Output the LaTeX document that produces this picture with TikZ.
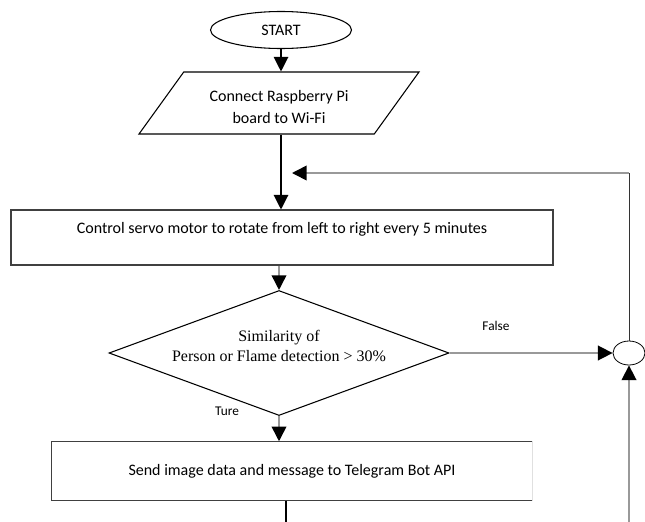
\documentclass[tikz,border=0pt]{standalone}
\usepackage{fontspec}
\setmainfont{Carlito}
\newfontfamily\decisionfont{Liberation Serif}
\usepackage{tikz}
\usetikzlibrary{arrows.meta,positioning,shapes.geometric}

\begin{document}
\begin{tikzpicture}[x=0.75pt, y=-0.75pt,
    font=\fontsize{12}{16.5}\selectfont,
    arr/.style={-{Triangle[length=11pt, width=11pt, color=black]}},
    mainline/.style={draw=black, line width=0.9pt},
    flowline/.style={draw=black!40, line width=1.2pt},
    procbox/.style={rectangle, draw=black!75, line width=0.8pt, inner sep=0pt},
    lbl/.style={font=\fontsize{10}{12}\selectfont}]
    \useasboundingbox (0,0) rectangle (645,521);

    % Start
    \node[ellipse, draw, line width=0.8pt, minimum width=105.75pt, minimum height=27.75pt, inner sep=0pt] (start) at (281,30) {START};

    % Wi-Fi connection (input/output)
    \node[trapezium, trapezium left angle=43, trapezium right angle=137, trapezium stretches body,
          draw, line width=0.8pt, minimum width=210pt, minimum height=46.5pt, inner sep=0pt, align=center] (wifi) at (279,103)
          {\rule{0pt}{14.7pt}Connect Raspberry Pi\\board to Wi-Fi};

    % Servo sweep
    \node[procbox, minimum width=406.5pt, minimum height=41.25pt, text height=8.7pt, text depth=14.5pt] (servo) at (282,237.5)
          {Control servo motor to rotate from left to right every 5 minutes};

    % Decision
    \node[diamond, draw, line width=0.8pt, shape aspect=2.72, minimum width=255pt, minimum height=93.75pt, inner sep=0pt] (detect) at (279,353) {};
    \node[align=center, font=\decisionfont\fontsize{12}{15.5}\selectfont] (detecttext) at (279,346)
          {Similarity of\\Person or Flame detection \textgreater{} 30\%};

    % Junction
    \node[ellipse, draw, line width=0.6pt, minimum width=24pt, minimum height=18pt, inner sep=0pt] (join) at (629,353) {};

    % Telegram message
    \node[minimum width=360pt, minimum height=44.25pt, inner sep=0pt] (send) at (292,471)
          {Send image data and message to Telegram Bot API};
    \draw[black!75, line width=0.8pt] (send.north east) -- (send.north west) -- (send.south west) -- (send.south east);
    \draw[black!12, line width=0.8pt] (send.south east) -- (send.north east);

    % Branch labels
    \node[lbl] (false) at (496,326) {False};
    \node[lbl] (true) at (227,411) {Ture};

    % Main flow
    \draw[mainline, arr] (start.south) -- (start.south |- wifi.north);
    \draw[mainline, arr] (start.south |- wifi.south) -- (start.south |- servo.north);
    \draw[flowline, arr] (servo.south -| detect.north) -- (detect.north);
    \draw[flowline, arr] (detect.east) -- (join.west);
    \draw[flowline, arr] (detect.south) -- (detect.south |- send.north);

    % Loop back to the servo
    \coordinate (turn) at (629,173);
    \coordinate (back) at (292,173);
    \draw[black!80, line width=0.7pt] (join.north) -- (turn);
    \draw[flowline, arr] (turn) -- (back);

    % Open ends at the bottom
    \coordinate (exit) at (286,525);
    \coordinate (retn) at (629,525);
    \draw[mainline] (exit |- send.south) -- (exit);
    \draw[flowline, arr] (retn) -- (join.south);
\end{tikzpicture}
\end{document}
